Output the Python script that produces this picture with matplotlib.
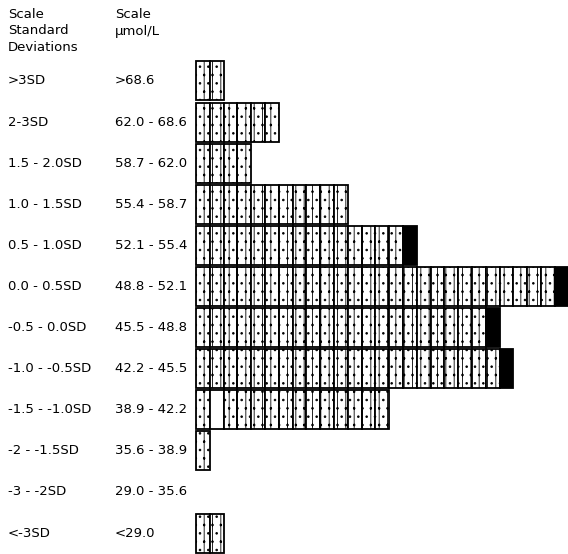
import matplotlib
matplotlib.use("Agg")
import matplotlib.pyplot as plt
import matplotlib.transforms as mtransforms

# one row per band, top to bottom
sd_labels = [">3SD", "2-3SD", "1.5 - 2.0SD", "1.0 - 1.5SD", "0.5 - 1.0SD",
             "0.0 - 0.5SD", "-0.5 - 0.0SD", "-1.0 - -0.5SD", "-1.5 - -1.0SD",
             "-2 - -1.5SD", "-3 - -2SD", "<-3SD"]
umol_labels = [">68.6", "62.0 - 68.6", "58.7 - 62.0", "55.4 - 58.7",
               "52.1 - 55.4", "48.8 - 52.1", "45.5 - 48.8", "42.2 - 45.5",
               "38.9 - 42.2", "35.6 - 38.9", "29.0 - 35.6", "<29.0"]
counts = [2, 6, 4, 11, 16, 27, 22, 23, 14, 1, 0, 2]
last_black = [False, False, False, False, True, True, True, True,
              False, False, False, False]
blank_boxes = [(8, 1)]  # (row, column) of boxes with no label inside

plt.rcParams["font.family"] = "DejaVu Sans"
plt.rcParams["hatch.linewidth"] = 0.6

fig = plt.figure(figsize=(5.68, 5.54), dpi=100)
ax = fig.add_axes([0, 0, 1, 1])
ax.set_xlim(-196 / 13.8, (568 - 196) / 13.8)
ax.set_ylim(11.51, -1.97)
ax.axis("off")

for row, n in enumerate(counts):
    for col in range(n):
        if last_black[row] and col == n - 1:
            ax.barh(row, 1, left=col, height=0.95, color="black",
                    edgecolor="black", linewidth=1.3)
        elif (row, col) in blank_boxes:
            ax.barh(row, 1, left=col, height=0.95, color="white",
                    edgecolor="black", linewidth=1.3)
        else:
            ax.barh(row, 1, left=col, height=0.95, color="white",
                    edgecolor="black", linewidth=1.3, hatch="||..")

# labels: x in figure fraction, y in row units
trans = mtransforms.blended_transform_factory(fig.transFigure, ax.transData)
for row in range(len(sd_labels)):
    ax.text(8 / 568, row, sd_labels[row], transform=trans, fontsize=9.5,
            va="center", ha="left")
    ax.text(115 / 568, row, umol_labels[row], transform=trans, fontsize=9.5,
            va="center", ha="left")

fig.text(8 / 568, 1 - 8 / 554, "Scale\nStandard\nDeviations", fontsize=9.5,
         va="top", ha="left", linespacing=1.35)
fig.text(115 / 568, 1 - 8 / 554, "Scale\nµmol/L", fontsize=9.5,
         va="top", ha="left", linespacing=1.35)

fig.savefig("out.png", dpi=100)
